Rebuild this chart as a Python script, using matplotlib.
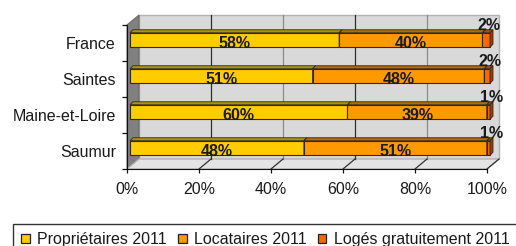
import matplotlib
matplotlib.use("Agg")
import matplotlib.pyplot as plt
from matplotlib.patches import Rectangle, Polygon, Patch

plt.rcParams['font.family'] = ['Liberation Sans', 'DejaVu Sans']

# ---- data ----
categories = ["France", "Saintes", "Maine-et-Loire", "Saumur"]
proprietaires = [58.1, 50.7, 60.4, 48.3]
locataires = [39.8, 47.7, 38.7, 50.8]
loges = [2.1, 1.6, 0.9, 0.9]
series_names = ["Propriétaires 2011", "Locataires 2011", "Logés gratuitement 2011"]
xticks = [0, 20, 40, 60, 80, 100]

# ---- styles ----
front_colors = ["#ffcc00", "#ff9900", "#ff6600"]
top_colors = ["#b39000", "#b36b00", "#b34700"]
side_colors = ["#a68500", "#a66300", "#993d00"]
edge = "#2a2a2a"
FS = 11.5

W, H = 516, 246
fig = plt.figure(figsize=(W / 100, H / 100), dpi=100)
ax = fig.add_axes([127 / W, (H - 169) / H, 360 / W, 144 / H])
ax.set_xlim(0, 100)
ax.set_ylim(3.5, -0.5)
ax.patch.set_visible(False)

PXX = 3.6   # pixels per percent
PXY = 36.0  # pixels per category
# wall depth
DX, DY = 12 / PXX, -10 / PXY
# bar front offset and bar depth
FX, FY = 3 / PXX, -3 / PXY
BX, BY = 3 / PXX, -3 / PXY
HB = 14.5 / PXY

# back wall
ax.add_patch(Rectangle((DX, -0.5 + DY), 100, 4, facecolor="#d9d9d9",
                       edgecolor="#b3b3b3", lw=1, zorder=0, clip_on=False))
# left wall
ax.add_patch(Polygon([(0, -0.5), (0, 3.5), (DX, 3.5 + DY), (DX, -0.5 + DY)],
                     closed=True, facecolor="#808080", edgecolor="#6a6a6a",
                     lw=0.8, zorder=0.2, clip_on=False))
# floor
ax.add_patch(Polygon([(0, 3.5), (100, 3.5), (100 + DX, 3.5 + DY), (DX, 3.5 + DY)],
                     closed=True, facecolor="#e4e4e4", edgecolor="#b3b3b3",
                     lw=1, zorder=0.2, clip_on=False))
# grid lines on back wall and floor
for i, t in enumerate(xticks[1:-1]):
    col = "#2e2e2e" if i % 2 == 0 else "#8a8a8a"
    ax.plot([t + DX, t + DX], [-0.5 + DY, 3.5 + DY], color=col, lw=0.9,
            zorder=0.5, clip_on=False)
for t in xticks[1:]:
    ax.plot([t, t + DX], [3.5, 3.5 + DY], color="#333333", lw=0.9,
            zorder=0.5, clip_on=False)

# bars
series = [proprietaires, locataires, loges]
for ci, cat in enumerate(categories):
    total = sum(s[ci] for s in series)
    left = 0.0
    for si, s in enumerate(series):
        v = s[ci] / total * 100
        x0 = left + FX
        x1 = x0 + v
        t = ci + FY - HB / 2
        b = ci + FY + HB / 2
        ax.add_patch(Rectangle((x0, t), v, HB, facecolor=front_colors[si],
                               edgecolor=edge, lw=0.8, zorder=2, clip_on=False))
        ax.add_patch(Polygon([(x0, t), (x1, t), (x1 + BX, t + BY), (x0 + BX, t + BY)],
                             closed=True, facecolor=top_colors[si], edgecolor=edge,
                             lw=0.6, zorder=2, clip_on=False))
        ax.add_patch(Polygon([(x1, t), (x1, b), (x1 + BX, b + BY), (x1 + BX, t + BY)],
                             closed=True, facecolor=side_colors[si], edgecolor=edge,
                             lw=0.6, zorder=2, clip_on=False))
        lab = f"{round(s[ci])}%"
        if v < 5:
            ax.text(left + v / 2 + FX + 0.8, ci - 0.37, lab, ha="center",
                    va="baseline", fontsize=FS, fontweight="bold",
                    color="#1a1a1a", zorder=5, clip_on=False)
        else:
            ax.text(left + v / 2 + FX, ci + 0.14, lab, ha="center",
                    va="baseline", fontsize=FS, fontweight="bold",
                    color="#1a1a1a", zorder=5, clip_on=False)
        left += v

# axes
for sp in ["top", "right"]:
    ax.spines[sp].set_visible(False)
ax.spines["left"].set_color("#111111")
ax.spines["bottom"].set_color("#111111")
ax.spines["left"].set_zorder(3)
ax.spines["bottom"].set_zorder(3)

ax.set_xticks(xticks)
ax.set_xticklabels([f"{t}%" for t in xticks], fontsize=FS, color="#1a1a1a")
ax.tick_params(axis="x", length=3, width=0.9, pad=6, color="#111111")

ax.set_yticks(range(len(categories)))
ax.set_yticklabels(categories, fontsize=FS, color="#1a1a1a")
ax.tick_params(axis="y", which="major", length=0, pad=8)
ax.set_yticks([i - 0.5 for i in range(len(categories) + 1)], minor=True)
ax.tick_params(axis="y", which="minor", length=3.5, width=0.9, color="#111111")

# legend
handles = [Patch(facecolor=c, edgecolor="#222222", lw=0.9) for c in front_colors]
leg = fig.legend(handles, series_names, loc="upper left",
                 bbox_to_anchor=(13 / W, 1 - 224 / H), ncol=3, frameon=True,
                 fancybox=False, edgecolor="black", borderaxespad=0,
                 handlelength=0.55, handleheight=0.55, handletextpad=0.45,
                 columnspacing=0.7, borderpad=0.5, fontsize=FS)
leg.get_frame().set_linewidth(1.0)
for txt in leg.get_texts():
    txt.set_color("#1a1a1a")

fig.savefig("out.png", dpi=100)
